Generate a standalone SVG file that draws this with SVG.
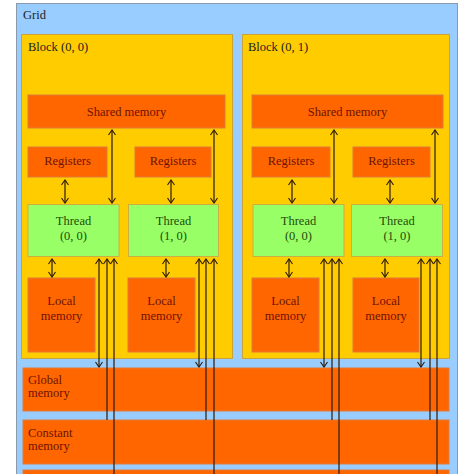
<svg xmlns="http://www.w3.org/2000/svg" width="474" height="474" viewBox="0 0 474 474">
<style>
.grid{fill:#99ccff;stroke:#8a9aaa;stroke-width:1}
.blk{fill:#ffcc00;stroke:#c9a23a;stroke-width:1}
.mem{fill:#ff6600;stroke:#e07a3a;stroke-width:1}
.thr{fill:#99ff66;stroke:#c9b040;stroke-width:1}
text{font-family:"Liberation Serif","DejaVu Serif",serif;font-size:12.5px}
.t{fill:#222}
.m{fill:#6e1200}
.g{fill:#1e4d0a}
.c{text-anchor:middle}
.ln{stroke:#2a1a08;stroke-width:1.2;fill:none}
</style>
<defs>
<marker id="ah" markerWidth="8" markerHeight="8" refX="6" refY="4" orient="auto-start-reverse" markerUnits="userSpaceOnUse">
<path d="M1,0.5 L6,4 L1,7.5" fill="none" stroke="#2a1a08" stroke-width="1.1"/>
</marker>
</defs>
<rect x="0" y="0" width="474" height="474" fill="#ffffff"/>
<g id="grid">
<rect class="grid" x="16.5" y="3.5" width="441" height="480"/>
<text class="t" x="23" y="19">Grid</text>
</g>
<g id="block00">
<rect class="blk" x="21.5" y="34.5" width="211" height="324"/>
<text class="t" x="28" y="51">Block (0, 0)</text>
</g>
<g id="block01">
<rect class="blk" x="242.5" y="34.5" width="207" height="324"/>
<text class="t" x="248" y="51">Block (0, 1)</text>
</g>
<g id="shared00">
<rect class="mem" x="28" y="95" width="197" height="33"/>
<text class="m c" x="126.5" y="116">Shared memory</text>
</g>
<g id="shared01">
<rect class="mem" x="252" y="95" width="191" height="33"/>
<text class="m c" x="347.5" y="116">Shared memory</text>
</g>
<g id="reg000">
<rect class="mem" x="28" y="147" width="79" height="30"/>
<text class="m c" x="67.5" y="165">Registers</text>
</g>
<g id="reg001">
<rect class="mem" x="135" y="147" width="76" height="30"/>
<text class="m c" x="173" y="165">Registers</text>
</g>
<g id="reg010">
<rect class="mem" x="252" y="147" width="78" height="30"/>
<text class="m c" x="291" y="165">Registers</text>
</g>
<g id="reg011">
<rect class="mem" x="353" y="147" width="77" height="30"/>
<text class="m c" x="391.5" y="165">Registers</text>
</g>
<g id="thread000">
<rect class="thr" x="28" y="204.5" width="91" height="52"/>
<text class="g c" x="73.5" y="225">Thread</text>
<text class="g c" x="73.5" y="240">(0, 0)</text>
</g>
<g id="thread001">
<rect class="thr" x="128.5" y="204.5" width="90" height="52"/>
<text class="g c" x="173.5" y="225">Thread</text>
<text class="g c" x="173.5" y="240">(1, 0)</text>
</g>
<g id="thread010">
<rect class="thr" x="253" y="204.5" width="91" height="52"/>
<text class="g c" x="298.5" y="225">Thread</text>
<text class="g c" x="298.5" y="240">(0, 0)</text>
</g>
<g id="thread011">
<rect class="thr" x="351.5" y="204.5" width="91" height="52"/>
<text class="g c" x="397" y="225">Thread</text>
<text class="g c" x="397" y="240">(1, 0)</text>
</g>
<g id="local000">
<rect class="mem" x="28" y="278" width="67" height="74"/>
<text class="m c" x="61.5" y="305">Local</text>
<text class="m c" x="61.5" y="320">memory</text>
</g>
<g id="local001">
<rect class="mem" x="128" y="278" width="67" height="74"/>
<text class="m c" x="161.5" y="305">Local</text>
<text class="m c" x="161.5" y="320">memory</text>
</g>
<g id="local010">
<rect class="mem" x="252" y="278" width="67" height="74"/>
<text class="m c" x="285.5" y="305">Local</text>
<text class="m c" x="285.5" y="320">memory</text>
</g>
<g id="local011">
<rect class="mem" x="353" y="278" width="66" height="74"/>
<text class="m c" x="386" y="305">Local</text>
<text class="m c" x="386" y="320">memory</text>
</g>
<g id="global">
<rect class="mem" x="23" y="368" width="426" height="43"/>
<text class="m" x="28" y="384">Global</text>
<text class="m" x="28" y="397">memory</text>
</g>
<g id="constant">
<rect class="mem" x="23" y="420" width="426" height="44"/>
<text class="m" x="28" y="437">Constant</text>
<text class="m" x="28" y="450">memory</text>
</g>
<g id="texture">
<rect class="mem" x="23" y="470" width="426" height="10"/>
</g>
<g id="connectors">
<!-- registers <-> thread -->
<line class="ln" x1="65" y1="180" x2="65" y2="203" marker-start="url(#ah)" marker-end="url(#ah)"/>
<line class="ln" x1="171" y1="180" x2="171" y2="203" marker-start="url(#ah)" marker-end="url(#ah)"/>
<line class="ln" x1="292" y1="180" x2="292" y2="203" marker-start="url(#ah)" marker-end="url(#ah)"/>
<line class="ln" x1="390" y1="180" x2="390" y2="203" marker-start="url(#ah)" marker-end="url(#ah)"/>
<!-- shared <-> thread -->
<line class="ln" x1="112" y1="130" x2="112" y2="203" marker-start="url(#ah)" marker-end="url(#ah)"/>
<line class="ln" x1="214" y1="130" x2="214" y2="203" marker-start="url(#ah)" marker-end="url(#ah)"/>
<line class="ln" x1="334" y1="130" x2="334" y2="203" marker-start="url(#ah)" marker-end="url(#ah)"/>
<line class="ln" x1="435" y1="130" x2="435" y2="203" marker-start="url(#ah)" marker-end="url(#ah)"/>
<!-- thread <-> local -->
<line class="ln" x1="52" y1="259" x2="52" y2="277" marker-start="url(#ah)" marker-end="url(#ah)"/>
<line class="ln" x1="166" y1="259" x2="166" y2="277" marker-start="url(#ah)" marker-end="url(#ah)"/>
<line class="ln" x1="289" y1="259" x2="289" y2="277" marker-start="url(#ah)" marker-end="url(#ah)"/>
<line class="ln" x1="385" y1="259" x2="385" y2="277" marker-start="url(#ah)" marker-end="url(#ah)"/>
<!-- thread <-> global -->
<line class="ln" x1="99" y1="259" x2="99" y2="367" marker-start="url(#ah)" marker-end="url(#ah)"/>
<line class="ln" x1="199" y1="259" x2="199" y2="367" marker-start="url(#ah)" marker-end="url(#ah)"/>
<line class="ln" x1="324" y1="259" x2="324" y2="367" marker-start="url(#ah)" marker-end="url(#ah)"/>
<line class="ln" x1="421" y1="259" x2="421" y2="367" marker-start="url(#ah)" marker-end="url(#ah)"/>
<!-- constant -> thread -->
<line class="ln" x1="107" y1="259" x2="107" y2="420" marker-start="url(#ah)"/>
<line class="ln" x1="206" y1="259" x2="206" y2="420" marker-start="url(#ah)"/>
<line class="ln" x1="332" y1="259" x2="332" y2="420" marker-start="url(#ah)"/>
<line class="ln" x1="430" y1="259" x2="430" y2="420" marker-start="url(#ah)"/>
<!-- texture -> thread -->
<line class="ln" x1="114" y1="259" x2="114" y2="474" marker-start="url(#ah)"/>
<line class="ln" x1="214" y1="259" x2="214" y2="474" marker-start="url(#ah)"/>
<line class="ln" x1="339" y1="259" x2="339" y2="474" marker-start="url(#ah)"/>
<line class="ln" x1="437" y1="259" x2="437" y2="474" marker-start="url(#ah)"/>
</g>
</svg>
